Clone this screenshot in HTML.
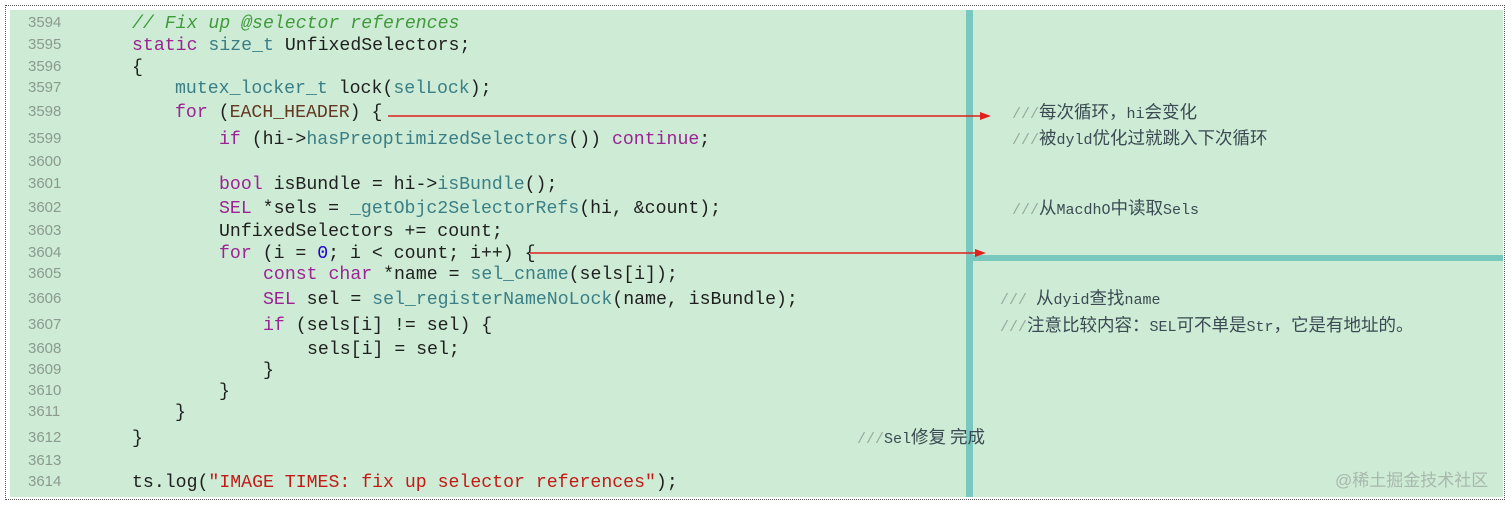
<!DOCTYPE html>
<html><head><meta charset="utf-8"><style>
body{margin:0;width:1512px;height:508px;background:#fff;position:relative;overflow:hidden}
.frame{position:absolute;left:5px;top:5px;width:1500px;height:495px;border:1px dotted #555;box-sizing:border-box}
.bg{position:absolute;left:10px;top:10px;width:1493px;height:487px;background:#cdebd5}
.vb{position:absolute;left:966px;top:10px;width:7px;height:487px;background:#78c8bf}
.hb{position:absolute;left:966px;top:255px;width:537px;height:6px;background:#78c8bf}
.ln{position:absolute;left:28px;font:15px "Liberation Sans",sans-serif;color:#8b9a8f;line-height:18px}
.c{position:absolute;font:18.2px "Liberation Mono",monospace;color:#1f1f1f;white-space:pre;line-height:20px}
.k{color:#9b2393}.t{color:#3a7f86}.cm{color:#3f9a3a;font-style:italic}.s{color:#c41a16}.n{color:#1c00cf}.m{color:#643820}
.z{position:absolute;font:15px "Liberation Mono","Noto Sans CJK SC",monospace;color:#3b4a52;white-space:pre;line-height:20px}
.z b{font-weight:normal;font-size:17.5px;font-family:"Noto Sans CJK SC",sans-serif}
.z i{font-style:normal;color:#9aa9a0}
</style></head><body>
<div class="frame"></div><div class="bg"></div>
<div class="vb"></div><div class="hb"></div>
<div class="ln" style="top:14px">3594</div><div class="ln" style="top:36px">3595</div><div class="ln" style="top:58px">3596</div><div class="ln" style="top:79px">3597</div><div class="ln" style="top:103px">3598</div><div class="ln" style="top:130px">3599</div><div class="ln" style="top:153px">3600</div><div class="ln" style="top:175px">3601</div><div class="ln" style="top:199px">3602</div><div class="ln" style="top:222px">3603</div><div class="ln" style="top:244px">3604</div><div class="ln" style="top:265px">3605</div><div class="ln" style="top:290px">3606</div><div class="ln" style="top:316px">3607</div><div class="ln" style="top:340px">3608</div><div class="ln" style="top:361px">3609</div><div class="ln" style="top:382px">3610</div><div class="ln" style="top:403px">3611</div><div class="ln" style="top:429px">3612</div><div class="ln" style="top:452px">3613</div><div class="ln" style="top:473px">3614</div>
<div class="c" style="left:132px;top:14px"><span class="cm">// Fix up @selector references</span></div>
<div class="c" style="left:132px;top:36px"><span class="k">static</span> <span class="t">size_t</span> UnfixedSelectors;</div>
<div class="c" style="left:132px;top:58px">{</div>
<div class="c" style="left:175px;top:79px"><span class="t">mutex_locker_t</span> lock(<span class="t">selLock</span>);</div>
<div class="c" style="left:175px;top:103px"><span class="k">for</span> (<span class="m">EACH_HEADER</span>) {</div>
<div class="c" style="left:219px;top:130px"><span class="k">if</span> (hi-&gt;<span class="t">hasPreoptimizedSelectors</span>()) <span class="k">continue</span>;</div>
<div class="c" style="left:219px;top:175px"><span class="k">bool</span> isBundle = hi-&gt;<span class="t">isBundle</span>();</div>
<div class="c" style="left:219px;top:199px"><span class="k">SEL</span> *sels = <span class="t">_getObjc2SelectorRefs</span>(hi, &amp;count);</div>
<div class="c" style="left:219px;top:222px">UnfixedSelectors += count;</div>
<div class="c" style="left:219px;top:244px"><span class="k">for</span> (i = <span class="n">0</span>; i &lt; count; i++) {</div>
<div class="c" style="left:263px;top:265px"><span class="k">const</span> <span class="k">char</span> *name = <span class="t">sel_cname</span>(sels[i]);</div>
<div class="c" style="left:263px;top:290px"><span class="k">SEL</span> sel = <span class="t">sel_registerNameNoLock</span>(name, isBundle);</div>
<div class="c" style="left:263px;top:316px"><span class="k">if</span> (sels[i] != sel) {</div>
<div class="c" style="left:307px;top:340px">sels[i] = sel;</div>
<div class="c" style="left:263px;top:361px">}</div>
<div class="c" style="left:219px;top:382px">}</div>
<div class="c" style="left:175px;top:403px">}</div>
<div class="c" style="left:132px;top:429px">}</div>
<div class="c" style="left:132px;top:473px">ts.log(<span class="s">"IMAGE TIMES: fix up selector references"</span>);</div>
<svg style="position:absolute;left:0;top:0" width="1512" height="508">
<line x1="388" y1="116" x2="982" y2="116" stroke="#e0201a" stroke-width="1.5"/><polygon points="991,116 980,112 980,120" fill="#e0201a"/>
<line x1="530" y1="253" x2="977" y2="253" stroke="#e0201a" stroke-width="1.5"/><polygon points="986,253 975,249 975,257" fill="#e0201a"/>
</svg>
<div class="z" style="left:1012px;top:102px"><i>///</i><b>每次循环，</b>hi<b>会变化</b></div>
<div class="z" style="left:1012px;top:128px"><i>///</i><b>被</b>dyld<b>优化过就跳入下次循环</b></div>
<div class="z" style="left:1012px;top:198px"><i>///</i><b>从</b>MacdhO<b>中读取</b>Sels</div>
<div class="z" style="left:1000px;top:288px"><i>///</i> <b>从</b>dyid<b>查找</b>name</div>
<div class="z" style="left:1000px;top:315px"><i>///</i><b>注意比较内容：</b>SEL<b>可不单是</b>Str<b>，它是有地址的。</b></div>
<div class="z" style="left:857px;top:427px"><i>///</i>Sel<b>修复 完成</b></div>
<div class="z" style="left:1335px;top:471px;color:#a9b8ae;font-size:17px;font-family:'Liberation Sans','Noto Sans CJK SC',sans-serif">@稀土掘金技术社区</div>
</body></html>
